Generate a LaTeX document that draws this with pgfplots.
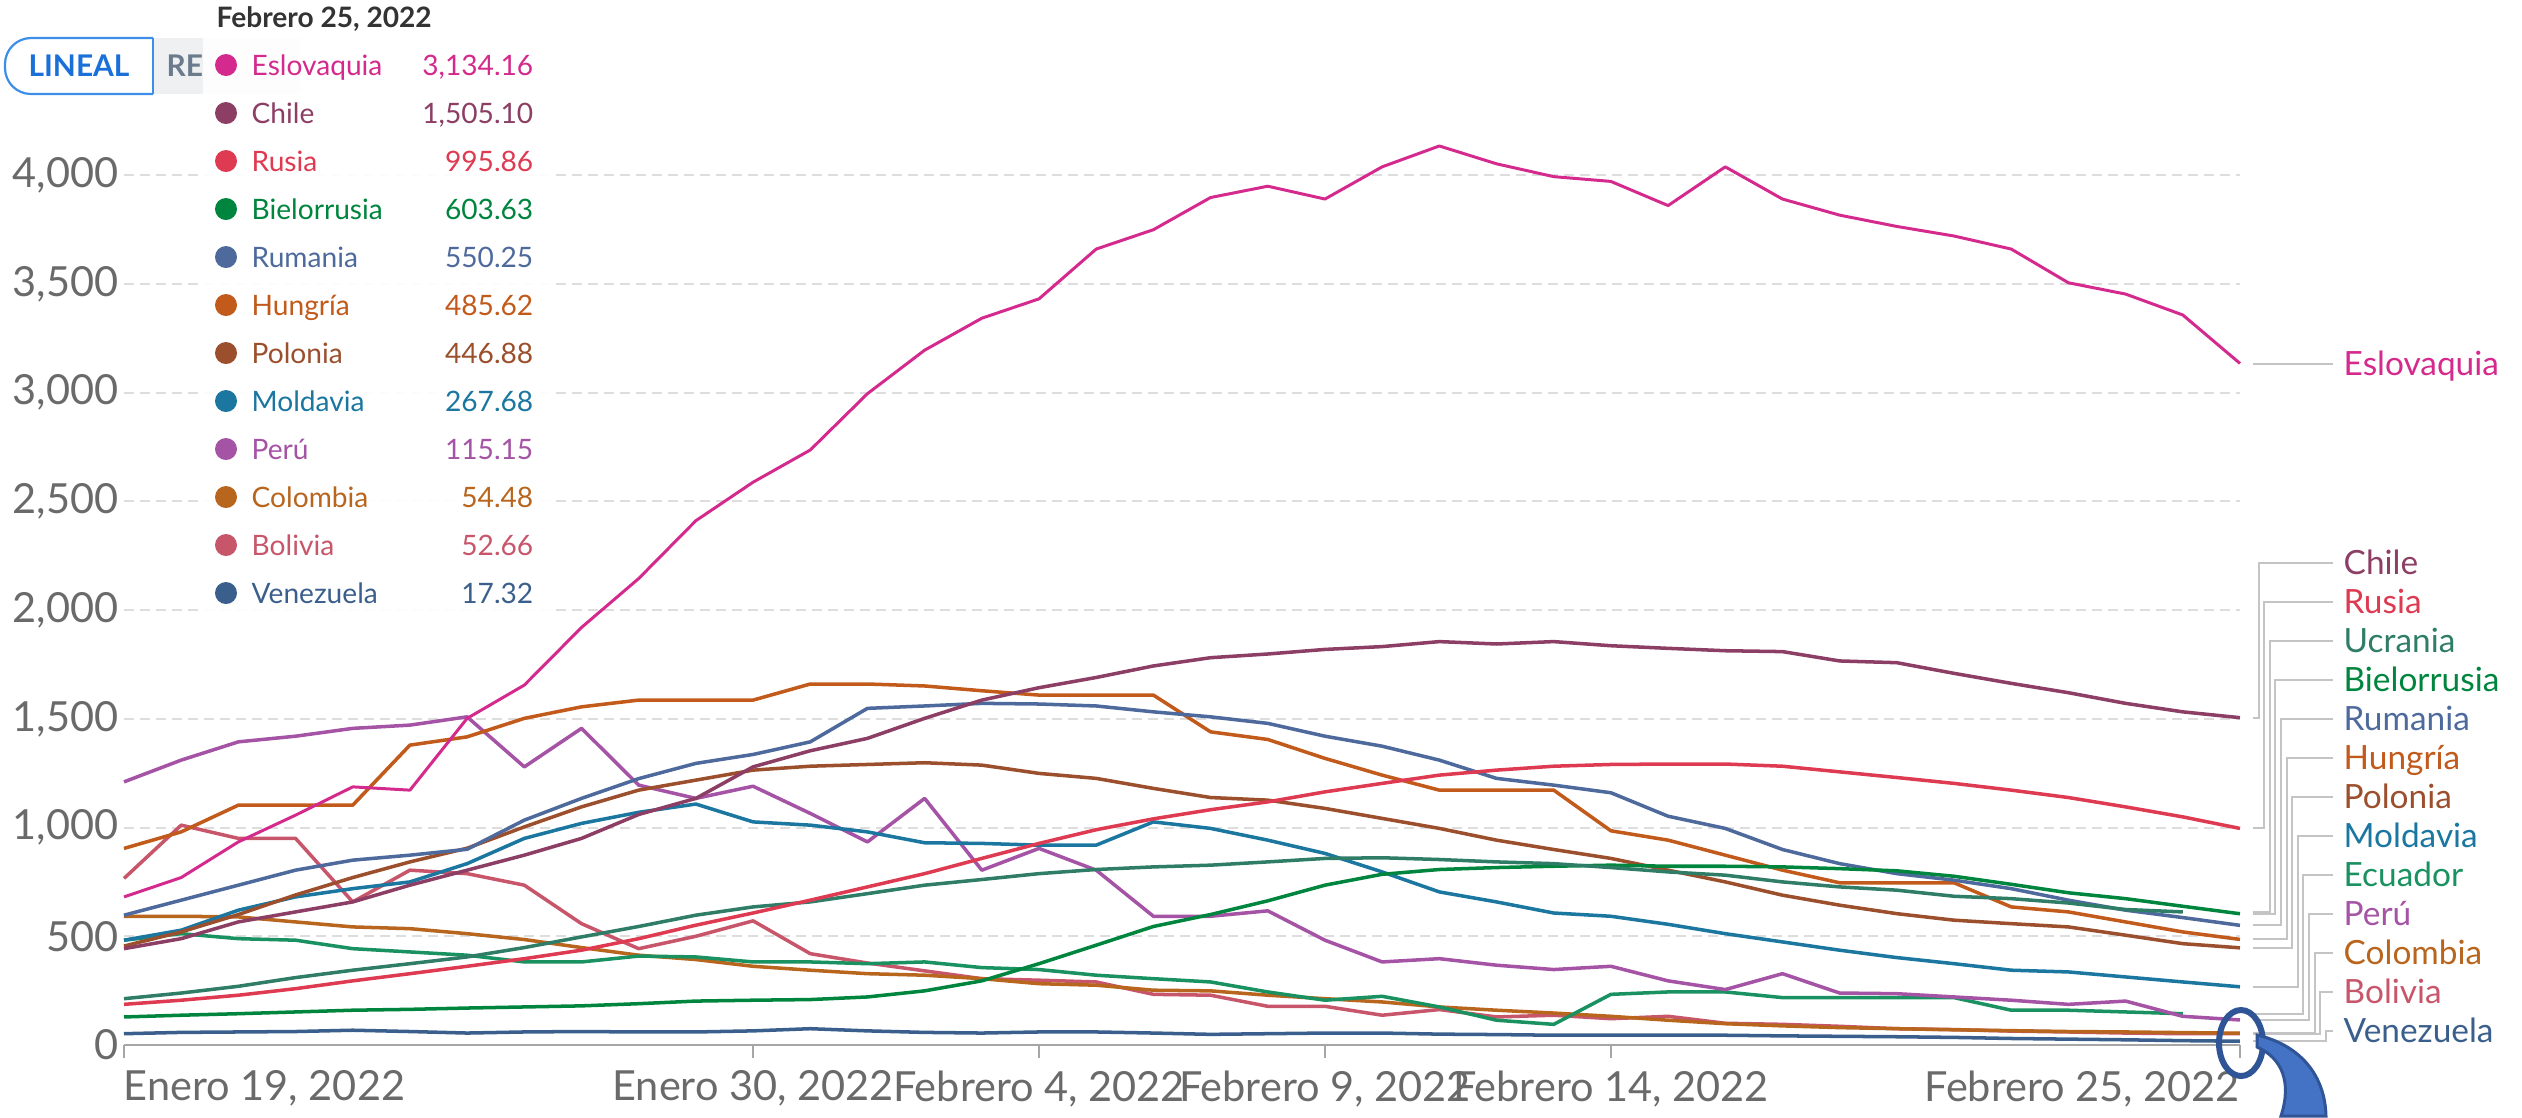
\documentclass[border=0pt]{standalone}
\usepackage{fontspec}
\setmainfont{Lato}
\usepackage{pgfplots}
\pgfplotsset{compat=1.18}
\definecolor{cEslovaquia}{HTML}{D42A8D}
\definecolor{cChile}{HTML}{8C3E64}
\definecolor{cRusia}{HTML}{DE3A51}
\definecolor{cUcrania}{HTML}{2F7D67}
\definecolor{cBielorrusia}{HTML}{00853E}
\definecolor{cRumania}{HTML}{4E6A9D}
\definecolor{cHungria}{HTML}{C15A1B}
\definecolor{cPolonia}{HTML}{9B4F2C}
\definecolor{cMoldavia}{HTML}{1B77A0}
\definecolor{cEcuador}{HTML}{1A9160}
\definecolor{cPeru}{HTML}{A553A5}
\definecolor{cColombia}{HTML}{B8651E}
\definecolor{cBolivia}{HTML}{C8566B}
\definecolor{cVenezuela}{HTML}{3B5F8C}
\definecolor{tickgray}{HTML}{6A6A6A}
\definecolor{gridgray}{HTML}{DDDDDD}
\definecolor{axisgray}{HTML}{A6A6A6}
\definecolor{conngray}{HTML}{C4C4C4}
\definecolor{btnblue}{HTML}{3C8EE6}
\definecolor{btntext}{HTML}{1A6FD8}
\definecolor{btngray}{HTML}{EEF0F2}
\definecolor{btngraytext}{HTML}{6B7B8C}
\definecolor{darktext}{HTML}{333333}
\definecolor{annblue}{HTML}{2F5597}
\definecolor{annfill}{HTML}{4472C4}
\newcommand{\rlab}{\fontsize{9.5}{11}\selectfont}
\newcommand{\tlab}{\fontsize{8}{10}\selectfont}
\pgfplotsset{every axis plot/.append style={line width=1.0pt, line join=round}}
\begin{document}
\begin{tikzpicture}
\begin{scope}[x=0.1mm,y=-0.1mm]
\path[use as bounding box] (0,0) rectangle (2522,1117);
% scale buttons
\fill[btngray] (153,38) rectangle (300,94);
\node[anchor=west, inner sep=0pt, text=btngraytext] at (166,66) {\fontsize{8.5}{10}\selectfont\bfseries RE};
\fill[white, rounded corners=2.6mm] (153,38) -- (5,38) -- (5,94) -- (153,94) -- cycle;
\draw[btnblue, line width=0.22mm, rounded corners=2.6mm] (153,38) -- (5,38) -- (5,94) -- (153,94);
\draw[btnblue, line width=0.22mm] (153,38) -- (153,94);
\node[inner sep=0pt, text=btntext] at (79,66) {\fontsize{8.5}{10}\selectfont\bfseries LINEAL};
\end{scope}
\begin{axis}[at={(12.4mm,-104.5mm)}, anchor=south west, scale only axis,
  width=211.6mm, height=91.34mm,
  xmin=0, xmax=37, ymin=0, ymax=4200, clip=false,
  axis x line*=bottom, axis y line*=left,
  axis line style={-},
  y axis line style={draw=none},
  x axis line style={axisgray, line width=0.25mm},
  ytick={0,500,...,4000},
  ymajorgrids,
  major grid style={gridgray, line width=0.2mm, dash pattern=on 1mm off 0.6mm},
  ytick style={draw=none},
  xtick={0,11,16,21,26,37},
  xticklabels={\rlap{Enero 19, 2022}, {Enero 30, 2022}, {Febrero 4, 2022}, {Febrero 9, 2022}, {Febrero 14, 2022}, \llap{Febrero 25, 2022}},
  tick align=outside,
  xtick style={axisgray, line width=0.25mm},
  major tick length=1.3mm,
  tick label style={text=tickgray, font=\fontsize{11.8}{13}\selectfont},
  xticklabel style={anchor=north, inner sep=0pt, yshift=-1.2mm},
  yticklabel style={anchor=east, inner sep=0pt, xshift=0.8mm},
  /pgf/number format/.cd, 1000 sep={,}, assume math mode=true,
]
\addplot[cVenezuela] coordinates {(0,52)(1,58)(2,60)(3,62)(4,68)(5,62)(6,55)(7,60)(8,62)(9,60)(10,60)(11,65)(12,75)(13,65)(14,58)(15,55)(16,60)(17,60)(18,55)(19,49)(20,52)(21,55)(22,55)(23,50)(24,48)(25,45)(26,45)(27,45)(28,45)(29,42)(30,40)(31,38)(32,35)(33,30)(34,27)(35,24)(36,20)(37,17.32)};
\addplot[cBolivia] coordinates {(0,766)(1,1011)(2,950)(3,950)(4,658)(5,804)(6,788)(7,735)(8,558)(9,443)(10,500)(11,571)(12,420)(13,377)(14,341)(15,305)(16,298)(17,290)(18,233)(19,229)(20,178)(21,178)(22,137)(23,163)(24,129)(25,137)(26,121)(27,132)(28,100)(29,95)(30,86)(31,75)(32,71)(33,64)(34,60)(35,55)(36,52)(37,52.66)};
\addplot[cColombia] coordinates {(0,592)(1,592)(2,589)(3,566)(4,543)(5,535)(6,512)(7,485)(8,448)(9,413)(10,393)(11,362)(12,344)(13,328)(14,321)(15,305)(16,282)(17,275)(18,252)(19,249)(20,229)(21,213)(22,198)(23,175)(24,160)(25,147)(26,132)(27,114)(28,98)(29,88)(30,80)(31,75)(32,70)(33,66)(34,62)(35,60)(36,57)(37,54.48)};
\addplot[cEcuador] coordinates {(0,482)(1,512)(2,489)(3,482)(4,443)(5,428)(6,413)(7,382)(8,382)(9,409)(10,405)(11,382)(12,382)(13,374)(14,382)(15,356)(16,347)(17,321)(18,305)(19,290)(20,244)(21,206)(22,224)(23,175)(24,114)(25,95)(26,233)(27,244)(28,244)(29,218)(30,218)(31,218)(32,218)(33,160)(34,160)(35,152)(36,144)};
\addplot[cPeru] coordinates {(0,1210)(1,1310)(2,1394)(3,1420)(4,1456)(5,1471)(6,1509)(7,1279)(8,1456)(9,1195)(10,1134)(11,1190)(12,1065)(13,934)(14,1134)(15,804)(16,904)(17,804)(18,592)(19,592)(20,617)(21,482)(22,382)(23,397)(24,367)(25,347)(26,362)(27,295)(28,255)(29,328)(30,239)(31,236)(32,221)(33,206)(34,187)(35,202)(36,132)(37,115.15)};
\addplot[cMoldavia] coordinates {(0,482)(1,528)(2,620)(3,681)(4,719)(5,750)(6,834)(7,950)(8,1019)(9,1070)(10,1108)(11,1026)(12,1011)(13,980)(14,930)(15,927)(16,919)(17,919)(18,1026)(19,996)(20,942)(21,881)(22,796)(23,704)(24,658)(25,607)(26,592)(27,555)(28,512)(29,474)(30,436)(31,402)(32,374)(33,344)(34,336)(35,313)(36,290)(37,267.68)};
\addplot[cPolonia] coordinates {(0,455)(1,520)(2,600)(3,690)(4,770)(5,842)(6,905)(7,1003)(8,1095)(9,1172)(10,1218)(11,1264)(12,1282)(13,1290)(14,1298)(15,1287)(16,1249)(17,1226)(18,1180)(19,1138)(20,1126)(21,1088)(22,1042)(23,996)(24,942)(25,899)(26,858)(27,804)(28,750)(29,689)(30,643)(31,604)(32,574)(33,558)(34,543)(35,505)(36,466)(37,446.88)};
\addplot[cHungria] coordinates {(0,904)(1,980)(2,1103)(3,1103)(4,1103)(5,1379)(6,1417)(7,1502)(8,1555)(9,1586)(10,1586)(11,1586)(12,1660)(13,1660)(14,1651)(15,1629)(16,1609)(17,1609)(18,1609)(19,1440)(20,1405)(21,1318)(22,1241)(23,1172)(24,1172)(25,1172)(26,985)(27,942)(28,873)(29,804)(30,746)(31,746)(32,746)(33,635)(34,612)(35,566)(36,520)(37,485.62)};
\addplot[cRumania] coordinates {(0,597)(1,666)(2,735)(3,804)(4,850)(5,873)(6,900)(7,1034)(8,1134)(9,1225)(10,1295)(11,1336)(12,1394)(13,1548)(14,1559)(15,1571)(16,1568)(17,1559)(18,1532)(19,1509)(20,1479)(21,1420)(22,1374)(23,1310)(24,1226)(25,1195)(26,1160)(27,1052)(28,996)(29,899)(30,834)(31,788)(32,758)(33,719)(34,666)(35,620)(36,586)(37,550.25)};
\addplot[cBielorrusia] coordinates {(0,129)(1,137)(2,144)(3,152)(4,160)(5,164)(6,170)(7,175)(8,180)(9,190)(10,202)(11,206)(12,209)(13,221)(14,249)(15,295)(16,374)(17,459)(18,545)(19,600)(20,663)(21,735)(22,785)(23,807)(24,816)(25,822)(26,827)(27,822)(28,822)(29,819)(30,811)(31,801)(32,776)(33,739)(34,700)(35,673)(36,638)(37,603.63)};
\addplot[cUcrania] coordinates {(0,213)(1,239)(2,270)(3,310)(4,344)(5,374)(6,405)(7,448)(8,497)(9,545)(10,597)(11,635)(12,658)(13,696)(14,735)(15,761)(16,788)(17,807)(18,819)(19,827)(20,842)(21,858)(22,861)(23,853)(24,842)(25,834)(26,816)(27,796)(28,781)(29,750)(30,727)(31,712)(32,684)(33,673)(34,653)(35,623)(36,612)};
\addplot[cRusia] coordinates {(0,187)(1,206)(2,229)(3,259)(4,295)(5,328)(6,362)(7,397)(8,436)(9,489)(10,551)(11,607)(12,666)(13,727)(14,788)(15,858)(16,927)(17,990)(18,1040)(19,1082)(20,1118)(21,1164)(22,1203)(23,1241)(24,1264)(25,1282)(26,1290)(27,1292)(28,1292)(29,1282)(30,1256)(31,1230)(32,1203)(33,1172)(34,1138)(35,1095)(36,1049)(37,995.86)};
\addplot[cChile] coordinates {(0,443)(1,489)(2,566)(3,612)(4,658)(5,735)(6,804)(7,873)(8,950)(9,1060)(10,1134)(11,1279)(12,1353)(13,1410)(14,1502)(15,1586)(16,1643)(17,1690)(18,1743)(19,1781)(20,1798)(21,1819)(22,1832)(23,1855)(24,1844)(25,1855)(26,1836)(27,1824)(28,1813)(29,1809)(30,1766)(31,1758)(32,1709)(33,1663)(34,1620)(35,1571)(36,1532)(37,1505.10)};
\addplot[cEslovaquia, line width=0.85pt] coordinates {(0,681)(1,770)(2,934)(3,1057)(4,1187)(5,1172)(6,1502)(7,1655)(8,1920)(9,2145)(10,2411)(11,2588)(12,2736)(13,2995)(14,3195)(15,3342)(16,3431)(17,3660)(18,3749)(19,3897)(20,3949)(21,3890)(22,4038)(23,4134)(24,4052)(25,3993)(26,3971)(27,3860)(28,4038)(29,3890)(30,3816)(31,3764)(32,3720)(33,3660)(34,3505)(35,3453)(36,3357)(37,3134.16)};
\end{axis}
\begin{scope}[x=0.1mm,y=-0.1mm]
% tooltip
\fill[white, opacity=0.93] (203,0) rectangle (550,625);
\node[anchor=base west, inner sep=0pt, text=darktext] at (216,27) {\tlab\bfseries Febrero 25, 2022};
\foreach \name/\col/\val [count=\i] in {Eslovaquia/cEslovaquia/{3,134.16}, Chile/cChile/{1,505.10}, Rusia/cRusia/995.86, Bielorrusia/cBielorrusia/603.63, Rumania/cRumania/550.25, Hungría/cHungria/485.62, Polonia/cPolonia/446.88, Moldavia/cMoldavia/267.68, Perú/cPeru/115.15, Colombia/cColombia/54.48, Bolivia/cBolivia/52.66, Venezuela/cVenezuela/17.32} {
  \pgfmathsetmacro{\Y}{65+48*(\i-1)}
  \fill[\col] (226,\Y) circle[radius=1.1mm];
  \node[anchor=base west, inner sep=0pt, text=\col] at (251,{\Y+10}) {\tlab \name};
  \node[anchor=base east, inner sep=0pt, text=\col] at (534,{\Y+10}) {\tlab \val};
}
% right labels
\draw[conngray, line width=0.2mm] (2253,363.5) -- (2333,363.5);
\node[anchor=base west, inner sep=0pt, text=cEslovaquia] at (2343,375) {\rlab Eslovaquia};
\foreach \name/\col/\ye/\xv/\yl in {Chile/cChile/717.7/2259/563, Rusia/cRusia/828.4/2264/602, Ucrania/cUcrania/911.9/2270/641, Bielorrusia/cBielorrusia/913.6/2275/680, Rumania/cRumania/925.4/2281/719, Hungría/cHungria/939.3/2287/758, Polonia/cPolonia/947.8/2292/797, Moldavia/cMoldavia/986.7/2298/836, Ecuador/cEcuador/1013.7/2303/875, Perú/cPeru/1020/2309/914, Colombia/cColombia/1033.3/2315/953, Bolivia/cBolivia/1033.5/2320/992, Venezuela/cVenezuela/1041.3/2326/1031} {
  \draw[conngray, line width=0.2mm] (2253,\ye) -- (\xv,\ye) -- (\xv,\yl) -- (2333,\yl);
  \node[anchor=base west, inner sep=0pt, text=\col] at (2343,{\yl+11}) {\rlab \name};
}
% annotation
\draw[annblue, line width=0.6mm] (2241,1043) ellipse[x radius=22, y radius=33];
\fill[annfill, draw=annblue, line width=0.3mm] (2257,1035) .. controls (2300,1045) and (2325,1075) .. (2326,1116) -- (2281,1116) .. controls (2292,1082) and (2282,1058) .. (2257,1047) -- cycle;
\end{scope}
\end{tikzpicture}
\end{document}
